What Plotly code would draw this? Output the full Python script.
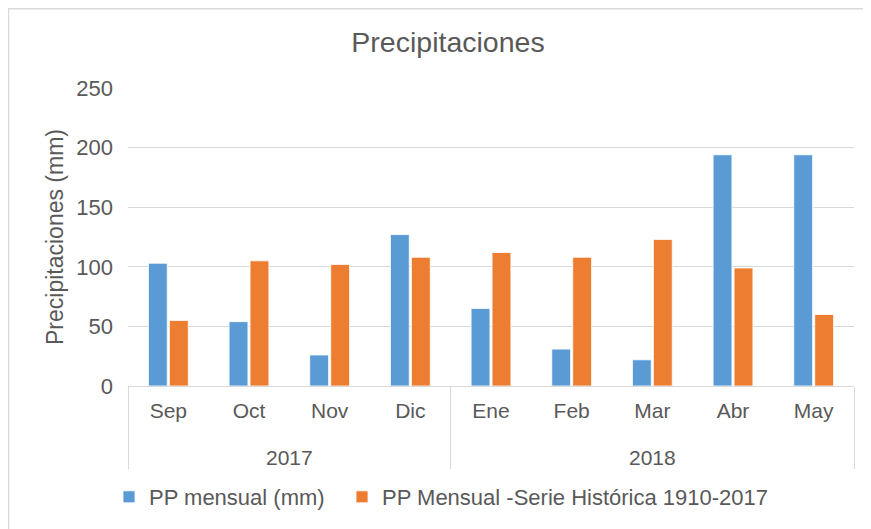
import plotly.graph_objects as go

years = ["2017"] * 4 + ["2018"] * 5
months = ["Sep", "Oct", "Nov", "Dic", "Ene", "Feb", "Mar", "Abr", "May"]
pp_mensual = [103, 54, 26, 127, 65, 31, 22, 194, 194]
pp_historica = [55, 105, 102, 108, 112, 108, 123, 99, 60]

FONT = "Liberation Sans, Arial, sans-serif"
GRAY = "#595959"

W, H = 863, 521
L, R, T, B = 120, 17, 80, 142
PW, PH = W - L - R, H - T - B

# year labels sit one line lower than Plotly's default under the month row
year_labels = ["<br>" + y for y in years]

fig = go.Figure()
fig.add_trace(go.Bar(x=[year_labels, months], y=pp_mensual, name="PP mensual (mm)",
                     legendwidth=188,
                     marker=dict(color="#5B9BD5", line=dict(color="white", width=0.8))))
fig.add_trace(go.Bar(x=[year_labels, months], y=pp_historica,
                     name="PP Mensual -Serie Histórica 1910-2017",
                     marker=dict(color="#ED7D31", line=dict(color="white", width=0.8))))

fig.update_layout(
    width=W, height=H,
    paper_bgcolor="white", plot_bgcolor="white",
    font=dict(family=FONT, color=GRAY, size=21),
    title=dict(text="Precipitaciones", x=440 / W, xanchor="center",
               y=1 - 34 / H, yanchor="middle", xref="container", yref="container",
               font=dict(size=28.5, color=GRAY, family=FONT)),
    margin=dict(l=L, r=R, t=T, b=B),
    barmode="group", bargap=0.48, bargroupgap=0.1,
    showlegend=True,
    legend=dict(orientation="h", x=(101 - L) / PW, xanchor="left",
                y=(PH - (489 - T)) / PH, yanchor="middle",
                font=dict(size=22, color=GRAY, family=FONT), itemwidth=30,
                traceorder="normal"),
    xaxis=dict(type="multicategory", showgrid=False, showline=True, linecolor="#D9D9D9",
               linewidth=1, ticks="", showdividers=True, dividercolor="#D9D9D9",
               dividerwidth=1, ticklabelstandoff=6, tickfont=dict(size=21, color=GRAY)),
    yaxis=dict(range=[0, 250], dtick=50, showgrid=True, gridcolor="#D9D9D9", gridwidth=1,
               zeroline=False, showline=False, ticks="", ticklabelstandoff=14,
               tickfont=dict(size=22, color=GRAY),
               title=dict(text="Precipitaciones (mm)", font=dict(size=23, color=GRAY),
                          standoff=6)),
)

fig.add_shape(type="rect", xref="paper", yref="paper",
              x0=(0.5 - L) / PW, x1=1.2, y0=-0.8, y1=(PH + T - 0.5) / PH,
              line=dict(color="#D9D9D9", width=1.5), fillcolor="rgba(0,0,0,0)", layer="below")

fig.write_html("out.html")
